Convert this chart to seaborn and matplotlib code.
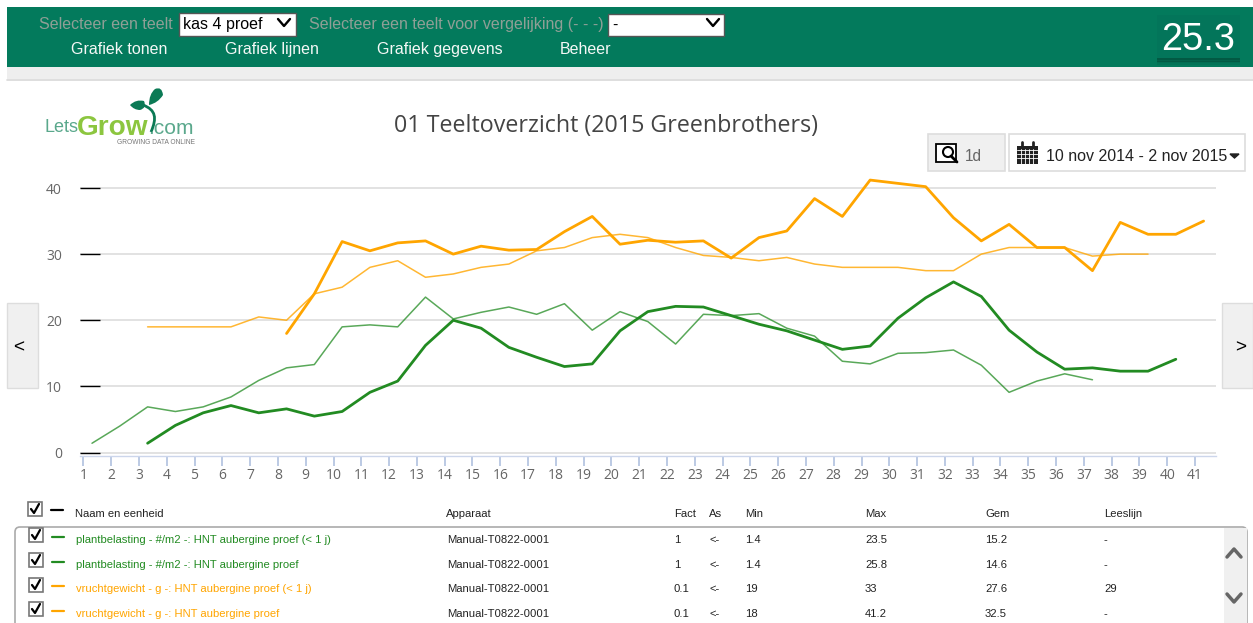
import matplotlib
matplotlib.use('Agg')
import matplotlib.pyplot as plt
import pandas as pd
import seaborn as sns
from matplotlib.patches import FancyBboxPatch, PathPatch, Rectangle
from matplotlib.path import Path

# DATA
weeks = list(range(1, 42))
y_ticks = [0, 10, 20, 30, 40]

plant_jong_start = 1
plant_jong = [1.4, 4, 6.9, 6.2, 6.9, 8.4, 10.9, 12.8, 13.3, 19, 19.3, 19, 23.5, 20.2, 21.2, 22,
              20.9, 22.5, 18.5, 21.3, 19.8, 16.4, 20.9, 20.7, 21, 18.8, 17.6, 13.8, 13.4, 15,
              15.1, 15.5, 13.2, 9.1, 10.8, 11.9, 11]
plant_start = 3
plant = [1.4, 4.1, 6, 7.1, 6, 6.6, 5.5, 6.2, 9.1, 10.8, 16.2, 20, 18.8, 15.9, 14.4, 13, 13.4,
         18.4, 21.3, 22.1, 22, 20.7, 19.4, 18.4, 17, 15.6, 16.1, 20.3, 23.4, 25.8, 23.6, 18.5,
         15.2, 12.6, 12.8, 12.3, 12.3, 14.1]
vrucht_jong_start = 3
vrucht_jong = [19, 19, 19, 19, 20.5, 20, 24, 25, 28, 29, 26.5, 27, 28, 28.5, 30.5, 31, 32.5, 33,
               32.5, 31, 29.8, 29.5, 29, 29.5, 28.5, 28, 28, 28, 27.5, 27.5, 30, 31, 31, 31,
               29.7, 30, 30]
vrucht_start = 8
vrucht = [18, 24, 31.9, 30.5, 31.7, 32, 30, 31.2, 30.6, 30.7, 33.4, 35.7, 31.5, 32.1, 31.8, 32,
          29.4, 32.5, 33.5, 38.4, 35.7, 41.2, 40.7, 40.2, 35.5, 32, 34.5, 31, 31, 27.5, 34.8,
          33, 33, 35]

table_names = ['plantbelasting - #/m2 -: HNT aubergine proef (< 1 j)',
               'plantbelasting - #/m2 -: HNT aubergine proef',
               'vruchtgewicht - g -: HNT aubergine proef (< 1 j)',
               'vruchtgewicht - g -: HNT aubergine proef']
table_device = ['Manual-T0822-0001'] * 4
table_fact = ['1', '1', '0.1', '0.1']
table_as = ['<-'] * 4
table_min = ['1.4', '1.4', '19', '18']
table_max = ['23.5', '25.8', '33', '41.2']
table_gem = ['15.2', '14.6', '27.6', '32.5']
table_lees = ['-', '-', '29', '-']

GREEN = '#228b22'
ORANGE = '#ffa500'
BAR = '#037a5c'
W, H = 1253, 623
FONT = 'Liberation Sans'

sns.set_style('white')
fig = plt.figure(figsize=(W / 100, H / 100), dpi=100)

# Laag in pixels voor de pagina eromheen
ui = fig.add_axes([0, 0, 1, 1])
ui.set_xlim(0, W)
ui.set_ylim(H, 0)
ui.axis('off')


def txt(x, y, s, px=13, color='#333333', ha='left', **kw):
    kw.setdefault('family', FONT)
    return ui.text(x, y, s, fontsize=px * 0.72, color=color, ha=ha, va='center_baseline', **kw)


def box(x0, y0, x1, y1, fc, ec='none', lw=1, z=1, alpha=None):
    ui.add_patch(Rectangle((x0, y0), x1 - x0, y1 - y0, fc=fc, ec=ec, lw=lw, zorder=z, alpha=alpha))


def chevron(x, y, w, h, color='black', lw=1.5):
    ui.plot([x - w, x, x + w], [y - h, y + h, y - h], color=color, lw=lw, solid_capstyle='round')


# Groene balk bovenaan
box(7, 7, W, 67, BAR)
box(7, 67, W, 79, '#eeeeee')
ui.plot([7, W], [79.5, 79.5], color='#d8d8d8', lw=1.2)
txt(39, 23, 'Selecteer een teelt', 16, '#8f9f96')
txt(309, 23, 'Selecteer een teelt voor vergelijking (- - -)', 16, '#8f9f96')
box(178.5, 13, 296, 36, 'white', '#555555')
txt(183, 23.5, 'kas 4 proef', 16, 'black')
chevron(284, 22.5, 6, 3.5, 'black', 1.7)
box(608, 13.5, 724, 36, 'white', '#555555')
txt(612, 23.5, '-', 16, 'black')
chevron(713, 22.5, 6, 3.5, 'black', 1.7)
for x, s in zip([71, 225, 377, 560], ['Grafiek tonen', 'Grafiek lijnen', 'Grafiek gegevens', 'Beheer']):
    txt(x, 48, s, 16, '#f4f8f6')
# 25.3 met zachte schaduw
for i, a in enumerate([0.5, 0.35, 0.2, 0.1]):
    box(1157, 58 + i * 1.5, 1240, 60 + i * 1.5, '#023a2c', z=1, alpha=a)
box(1157, 15, 1240, 58, '#03755a', z=2)
txt(1198, 36, '25.3', 38, 'white', ha='center', zorder=3)

# Logo
txt(44, 126, 'Lets', 18, '#5aa88c')
txt(77, 125, 'Grow', 28, '#8cc63f', fontweight='bold')
txt(148, 126, '.com', 21, '#5aa88c')
txt(117, 141, 'GROWING DATA ONLINE', 6.6, '#777777')
stem = Path([(151, 132), (157, 118), (156, 110), (143, 105)],
            [Path.MOVETO, Path.CURVE4, Path.CURVE4, Path.CURVE4])
ui.add_patch(PathPatch(stem, fc='none', ec='#0b7a55', lw=2))
leaf1 = Path([(130, 105), (136, 99), (144, 101), (147, 108), (140, 110), (134, 110), (130, 105)],
             [Path.MOVETO] + [Path.CURVE3] * 6)
leaf2 = Path([(149, 105), (149, 94), (155, 89), (162, 86), (163, 95), (158, 103), (149, 105)],
             [Path.MOVETO] + [Path.CURVE3] * 6)
ui.add_patch(PathPatch(leaf1, fc='#0b7a55', ec='none'))
ui.add_patch(PathPatch(leaf2, fc='#0b7a55', ec='none'))

txt(606, 123, '01 Teeltoverzicht (2015 Greenbrothers)', 23.2, '#444444', ha='center', family='Open Sans')

# Knoppen rechtsboven
box(927.5, 134, 1005, 171, '#f0f0f0', '#dddddd', 1.2)
box(1008.5, 134, 1245, 171, 'white', '#dddddd', 1.2)
txt(965, 155, '1d', 15.5, '#666666')
ui.add_patch(Rectangle((936, 144), 20, 18, fc='white', ec='black', lw=1.3))
ui.add_patch(plt.Circle((948, 152), 5, fc='white', ec='black', lw=1.5))
ui.plot([951, 957], [156, 162], color='black', lw=2)
box(1017, 146, 1038, 164, '#222222')
for gx in [1021, 1025, 1029, 1033]:
    ui.plot([gx, gx], [149, 164], color='white', lw=0.6)
for gy in [150, 154, 158]:
    ui.plot([1017, 1038], [gy, gy], color='white', lw=0.6)
ui.plot([1022, 1022], [142, 147], color='#222222', lw=2)
ui.plot([1033, 1033], [142, 147], color='#222222', lw=2)
txt(1046, 155, '10 nov 2014 - 2 nov 2015', 16, '#222222')
ui.fill([1230, 1239, 1234.5], [154, 154, 158], color='#222222')

# Pijlknoppen aan de zijkant
box(7, 303, 38, 388, '#f0f0f0', '#dddddd')
box(1222, 303, W, 388, '#f0f0f0', '#dddddd')
txt(19, 346, '<', 19, 'black', ha='center')
txt(1241, 346, '>', 19, 'black', ha='center')

# Grafiek, as-grenzen afgeleid van de pixelposities van 1 t/m 41 en 0 t/m 40
ax_l, ax_r, ax_t, ax_b = 80, 1216, 170, 456
ax = fig.add_axes([ax_l / W, 1 - ax_b / H, (ax_r - ax_l) / W, (ax_b - ax_t) / H])
ax.patch.set_alpha(0)

series = [
    (plant_jong, plant_jong_start, GREEN, 1.1, 0.75),
    (plant, plant_start, GREEN, 2.0, 1),
    (vrucht_jong, vrucht_jong_start, ORANGE, 1.1, 0.8),
    (vrucht, vrucht_start, ORANGE, 2.0, 1),
]
offset = 0.31  # punten staan iets rechts van de streep
for values, start, color, lw, alpha in series:
    df = pd.DataFrame({'week': [start + i + offset for i in range(len(values))], 'waarde': values})
    sns.lineplot(data=df, x='week', y='waarde', color=color, linewidth=lw, alpha=alpha, ax=ax, zorder=3)

step_x = (1195 - 83.4) / 40
step_y = (452.5 - 188) / 40
ax.set_xlim(1 + (ax_l - 83.4) / step_x, 1 + (ax_r - 83.4) / step_x)
ax.set_ylim((452.5 - ax_b) / step_y, (452.5 - ax_t) / step_y)
ax.set_xticks(weeks)
ax.set_yticks(y_ticks)
ax.set_xlabel('')
ax.set_ylabel('')
ax.grid(axis='y', color='#dddddd', lw=1.2)
ax.tick_params(axis='x', which='major', direction='out', length=7.5, width=1.1, color='#a9bcdc',
               labelsize=10, labelcolor='#666666', pad=1.2, bottom=True)
ax.tick_params(axis='y', direction='in', length=14.5, width=1, color='black', labelsize=10,
               labelcolor='#666666', pad=13, left=True)
for label in ax.get_xticklabels() + ax.get_yticklabels():
    label.set_family('Open Sans')
sns.despine(ax=ax, left=True, top=True, right=True)
ax.spines['bottom'].set_color('#ccd6eb')
ax.spines['bottom'].set_linewidth(1)


def checkbox(x, y):
    box(x - 7, y - 7, x + 7, y + 7, 'white', '#777777', 1.2)
    ui.plot([x - 4, x - 1, x + 4], [y, y + 4, y - 5], color='black', lw=1.6)


# Tabel onder de grafiek
TS = 11.3
header = [(75, 'Naam en eenheid'), (446, 'Apparaat'), (674, 'Fact'), (709, 'As'), (745, 'Min'),
          (865, 'Max'), (985, 'Gem'), (1104, 'Leeslijn')]
checkbox(35, 509)
ui.plot([51, 63], [510, 510], color='black', lw=1.6)
for x, s in header:
    txt(x, 513, s, TS, '#222222')

ui.add_patch(FancyBboxPatch((15, 527), 1232, 110, boxstyle='round,pad=0,rounding_size=5',
                            fc='none', ec='#aaaaaa', lw=1.2))
box(1224, 528, 1247, 623, '#f0f0f0')
chevron(1234, 553, 7, -4, '#666666', 2.5)
chevron(1234, 598, 7, 4, '#666666', 2.5)

row_y = [539, 564, 588, 613]
check_y = [535, 560, 585, 609]
row_color = [GREEN, GREEN, ORANGE, ORANGE]
for i in range(4):
    checkbox(36, check_y[i])
    ui.plot([52, 64], [row_y[i] - 2, row_y[i] - 2], color=row_color[i], lw=1.6)
    txt(76, row_y[i], table_names[i], TS, row_color[i])
    txt(447, row_y[i], table_device[i], TS, '#222222')
    txt(674, row_y[i], table_fact[i], TS, '#222222')
    txt(709, row_y[i], table_as[i], TS, '#222222')
    txt(745, row_y[i], table_min[i], TS, '#222222')
    txt(865, row_y[i], table_max[i], TS, '#222222')
    txt(985, row_y[i], table_gem[i], TS, '#222222')
    txt(1104, row_y[i], table_lees[i], TS, '#222222')

fig.savefig('out.png', dpi=100)
